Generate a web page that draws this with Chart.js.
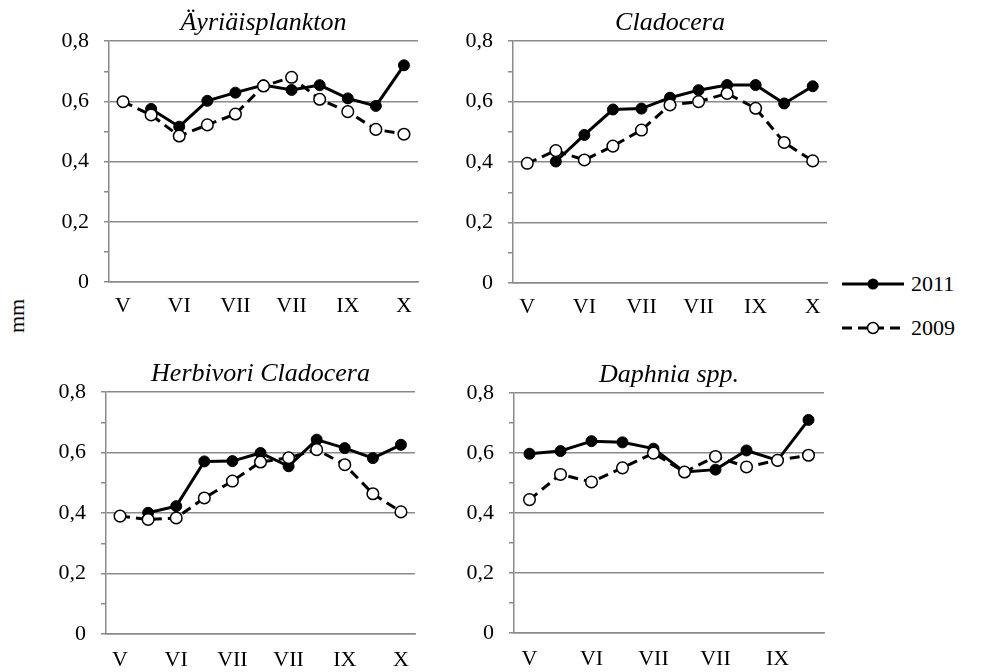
<!DOCTYPE html>
<html>
<head>
<meta charset="utf-8">
<script src="https://cdn.jsdelivr.net/npm/chart.js@4"></script>
<style>
body{margin:0;background:#fff;width:981px;height:672px;position:relative;overflow:hidden;font-family:"Liberation Serif",serif;}
canvas{position:absolute;}
.leg{position:absolute;left:840px;font-size:22px;color:#000;display:flex;align-items:center;}
.leg span{margin-left:5px;}
#mm{position:absolute;left:17px;top:316px;font-size:22px;transform:translate(-50%,-50%) rotate(-90deg);}
</style>
</head>
<body>
<canvas id="c1" width="400" height="320" style="left:30px;top:0px"></canvas>
<canvas id="c2" width="400" height="320" style="left:440px;top:0px"></canvas>
<canvas id="c3" width="400" height="321" style="left:30px;top:351px"></canvas>
<canvas id="c4" width="400" height="320" style="left:440px;top:352px"></canvas>
<div id="mm">mm</div>
<div class="leg" style="top:271px"><svg width="66" height="26"><line x1="2" y1="13" x2="64" y2="13" stroke="#000" stroke-width="3"/><circle cx="33" cy="13" r="5.5" fill="#000"/></svg><span>2011</span></div>
<div class="leg" style="top:315px"><svg width="66" height="26"><line x1="2" y1="13" x2="64" y2="13" stroke="#000" stroke-width="3" stroke-dasharray="10,6"/><circle cx="33" cy="13" r="5.5" fill="#fff" stroke="#000" stroke-width="1.5"/></svg><span>2009</span></div>
<script>
/* ===== DATA ===== */
const months11 = ["V","","VI","","VII","","VII","","IX","","X"];
const months10 = ["V","","VI","","VII","","VII","","IX",""];
const yTicks = [0,0.2,0.4,0.6,0.8];

const ayr2011 = [null,0.575,0.516,0.602,0.629,0.654,0.638,0.654,0.610,0.585,0.720];
const ayr2009 = [0.599,0.555,0.485,0.522,0.558,0.651,0.680,0.607,0.566,0.507,0.491];

const cla2011 = [null,0.402,0.490,0.574,0.577,0.613,0.638,0.655,0.655,0.594,0.651];
const cla2009 = [0.396,0.438,0.407,0.453,0.506,0.589,0.600,0.627,0.578,0.465,0.404];

const her2011 = [null,0.401,0.423,0.571,0.572,0.599,0.555,0.643,0.615,0.582,0.626];
const her2009 = [0.390,0.379,0.384,0.450,0.506,0.569,0.583,0.610,0.560,0.464,0.404];

const dap2011 = [0.598,0.607,0.640,0.636,0.615,0.537,0.545,0.609,0.576,0.711];
const dap2009 = [0.445,0.529,0.504,0.551,0.600,0.537,0.589,0.554,0.576,0.593];

const GRAY = "#8a8a8a";
const FONT = "'Liberation Serif', 'Times New Roman', serif";

function fmt(v){
  return v===0 ? "0" : v.toFixed(1).replace(".",",");
}
function isMajor(v){
  return yTicks.some(t=>Math.abs(t-v)<1e-6);
}

function makeChart(id, title, labels, s2011, s2009, g){
  new Chart(document.getElementById(id),{
    type:"line",
    data:{
      labels:labels,
      datasets:[
        {
          label:"2011",
          data:s2011,
          order:2,
          borderColor:"#000",
          borderWidth:3,
          pointRadius:5.5,
          pointBackgroundColor:"#000",
          pointBorderColor:"#000",
          pointBorderWidth:1,
          tension:0
        },
        {
          label:"2009",
          data:s2009,
          order:1,
          borderColor:"#000",
          borderWidth:3,
          borderDash:[10,6],
          pointRadius:5.8,
          pointBackgroundColor:"#fff",
          pointBorderColor:"#000",
          pointBorderWidth:1.5,
          tension:0
        }
      ]
    },
    options:{
      responsive:false,
      animation:false,
      layout:{padding:{left:0,right:g.right,top:0,bottom:0}},
      plugins:{
        legend:{display:false},
        tooltip:{enabled:false},
        title:{
          display:true,
          text:title,
          fullSize:false,
          color:"#000",
          font:{family:FONT,size:26,style:"italic",weight:"normal",lineHeight:1.2},
          padding:{top:8,bottom:2}
        }
      },
      scales:{
        x:{
          type:"category",
          offset:true,
          grid:{display:false,drawTicks:false},
          border:{display:true,color:GRAY,width:1.5},
          ticks:{
            autoSkip:false,maxRotation:0,padding:g.xpad,
            color:"#000",
            font:{family:FONT,size:22}
          },
          afterFit(s){ s.height = g.xh; }
        },
        y:{
          min:0,max:0.8,
          grid:{
            color:(c)=> (c.tick && isMajor(c.tick.value)) ? GRAY : "rgba(0,0,0,0)",
            tickColor:GRAY,
            tickLength:5,
            lineWidth:1.5
          },
          border:{display:true,color:GRAY,width:1.5},
          ticks:{
            stepSize:0.1,
            padding:15,
            color:"#000",
            font:{family:FONT,size:22},
            callback:(v)=> isMajor(v) ? fmt(v) : ""
          },
          afterFit(s){ s.width = g.yw; }
        }
      }
    }
  });
}

makeChart("c1","Äyriäisplankton",months11,ayr2011,ayr2009,{yw:79,right:12,xh:38,xpad:11});
makeChart("c2","Cladocera",months11,cla2011,cla2009,{yw:73,right:13,xh:37,xpad:11});
makeChart("c3","Herbivori Cladocera",months11,her2011,her2009,{yw:76,right:15,xh:38,xpad:13});
makeChart("c4","Daphnia spp.",months10,dap2011,dap2009,{yw:74,right:16,xh:39,xpad:13});
</script>
</body>
</html>
